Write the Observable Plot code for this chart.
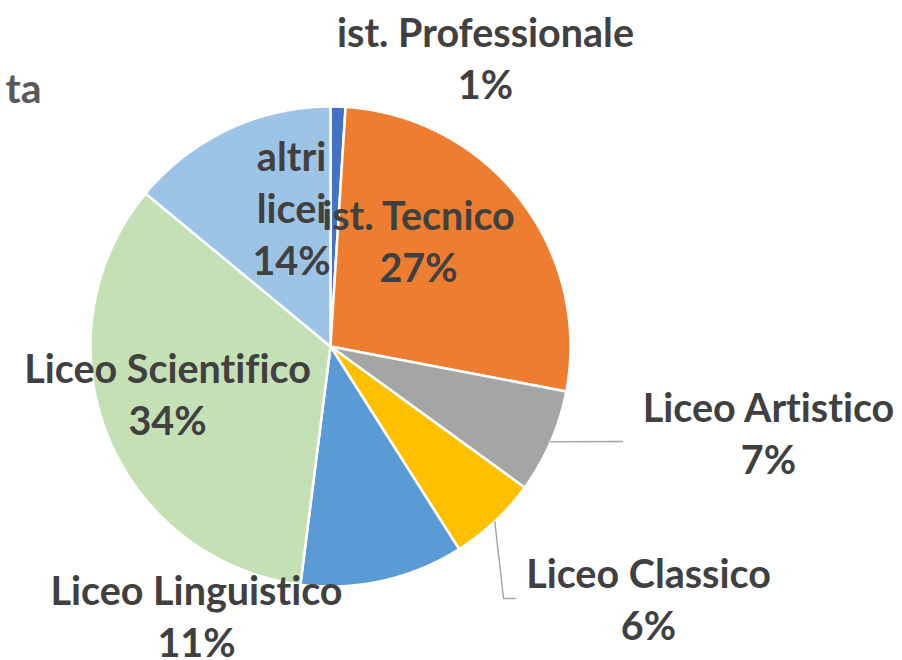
<!DOCTYPE html>
<html>
<head>
<meta charset="utf-8">
<script src="https://cdn.jsdelivr.net/npm/d3@7"></script>
<script src="https://cdn.jsdelivr.net/npm/@observablehq/plot@0.6"></script>
<style>
  html, body { margin: 0; padding: 0; background: #fff; }
  #chart svg { display: block; }
  #chart text { font-variant-ligatures: none; font-feature-settings: "liga" 0; }
</style>
</head>
<body>
<div id="chart"></div>
<script>
// ---- data ----
const categories = ["ist. Professionale", "ist. Tecnico", "Liceo Artistico", "Liceo Classico", "Liceo Linguistico", "Liceo Scientifico", "altri licei"];
const values = [1, 27, 7, 6, 11, 34, 14];
const labelTexts = ["ist. Professionale\n1%", "ist. Tecnico\n27%", "Liceo Artistico\n7%", "Liceo Classico\n6%", "Liceo Linguistico\n11%", "Liceo Scientifico\n34%", "altri\nlicei\n14%"];
const titleText = "ta";

// ---- style / layout ----
const colors = ["#4472C4", "#ED7D31", "#A5A5A5", "#FFC000", "#5B9BD5", "#C5E0B4", "#9DC3E6"];
const W = 902, H = 660, CX = 330, CY = 346, R = 240;
const FONT = 39.5;
// label block centres (pixels)
const labelPx = [[485, 56], [418, 239], [768, 431], [648, 597], [196, 614], [167, 392], [291, 206]];
// leader line elbows after the arc point (pixels), per slice index
const leaderPx = {2: [[622, 441]], 3: [[503, 598], [515, 598]]};

const ux = px => (px - CX) / R;
const uy = py => (CY - py) / R;

// slices via d3.pie (clockwise from 12 o'clock, data order)
const arcs = d3.pie().sort(null).value(d => d)(values);
const slicePts = [];
arcs.forEach((a, i) => {
  const cat = categories[i];
  slicePts.push({cat, x: 0, y: 0});
  const n = Math.max(2, Math.ceil((a.endAngle - a.startAngle) / 0.01));
  for (let k = 0; k <= n; k++) {
    const t = a.startAngle + (a.endAngle - a.startAngle) * k / n;
    slicePts.push({cat, x: Math.sin(t), y: Math.cos(t)});
  }
  slicePts.push({cat, x: 0, y: 0});
});

const labels = categories.map((c, i) => ({cat: c, text: labelTexts[i], x: ux(labelPx[i][0]), y: uy(labelPx[i][1])}));

const leaders = [];
Object.entries(leaderPx).forEach(([i, pts]) => {
  const a = arcs[+i];
  const m = (a.startAngle + a.endAngle) / 2;
  leaders.push({id: i, x: Math.sin(m), y: Math.cos(m)});
  pts.forEach(p => leaders.push({id: i, x: ux(p[0]), y: uy(p[1])}));
});

const chart = Plot.plot({
  width: W,
  height: H,
  margin: 0,
  x: {domain: [ux(0), ux(W)], range: [0, W], axis: null},
  y: {domain: [uy(H), uy(0)], range: [H, 0], axis: null},
  color: {domain: categories, range: colors},
  style: {fontFamily: "Lato, 'Open Sans', sans-serif", background: "#fff"},
  marks: [
    Plot.line(slicePts, {x: "x", y: "y", z: "cat", fill: "cat", stroke: "white", strokeWidth: 2.5, strokeLinejoin: "round"}),
    Plot.line(leaders, {x: "x", y: "y", z: "id", stroke: "#A6A6A6", strokeWidth: 1.5}),
    Plot.text(labels, {x: "x", y: "y", text: "text", fill: "#404040", fontSize: FONT, fontWeight: "bold", lineHeight: 52 / FONT, textAnchor: "middle", lineAnchor: "middle"}),
    Plot.text([titleText], {frameAnchor: "top-left", text: d => d, dx: 41, dy: 89, textAnchor: "end", lineAnchor: "middle", fill: "#595959", fontSize: 41, fontWeight: "bold"})
  ]
});
document.getElementById("chart").appendChild(chart);
</script>
</body>
</html>
